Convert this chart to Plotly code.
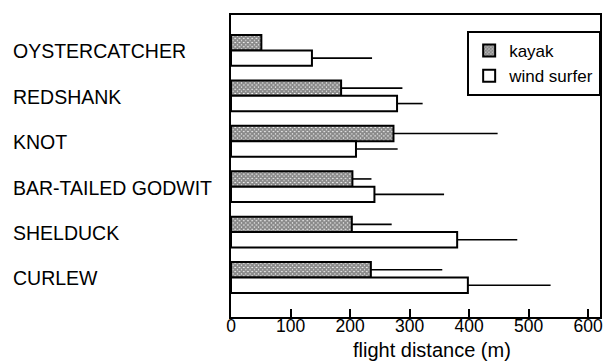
import plotly.graph_objects as go

species = ["OYSTERCATCHER", "REDSHANK", "KNOT", "BAR-TAILED GODWIT", "SHELDUCK", "CURLEW"]
kayak = [51, 185, 273, 204, 203, 235]
kayak_err = [0, 103, 175, 32, 67, 120]
windsurfer = [136, 279, 210, 241, 380, 398]
windsurfer_err = [101, 43, 70, 117, 101, 139]
x_ticks = [0, 100, 200, 300, 400, 500, 600]
x_title = "flight distance (m)"

FONT = "Liberation Sans, Arial, Helvetica, sans-serif"

fig = go.Figure()
fig.add_trace(go.Bar(
    y=species, x=kayak, orientation="h", name="kayak",
    marker=dict(color="white", line=dict(color="black", width=2),
                pattern=dict(shape="x", size=3, solidity=0.85, fgcolor="#111", bgcolor="white")),
    error_x=dict(type="data", symmetric=False, array=kayak_err, arrayminus=[0]*6,
                 color="black", thickness=1.6, width=0),
))
fig.add_trace(go.Bar(
    y=species, x=windsurfer, orientation="h", name="wind surfer",
    marker=dict(color="white", line=dict(color="black", width=2)),
    error_x=dict(type="data", symmetric=False, array=windsurfer_err, arrayminus=[0]*6,
                 color="black", thickness=1.6, width=0),
))

for s in species:
    fig.add_annotation(x=0, xref="paper", xshift=-220, xanchor="left",
                       y=s, yref="y", yanchor="middle", yshift=-1, text=s, showarrow=False,
                       font=dict(family=FONT, size=19.5, color="black"))

fig.add_annotation(x=0.546, xref="paper", xanchor="center", y=0, yref="paper",
                   yanchor="bottom", yshift=-46, text=x_title, showarrow=False,
                   font=dict(family=FONT, size=20, color="black"))

fig.update_layout(
    width=606, height=363,
    margin=dict(l=231, r=6, t=15, b=46, autoexpand=False),
    paper_bgcolor="white", plot_bgcolor="white",
    barmode="group", bargap=0.32, bargroupgap=0,
    font=dict(family=FONT, color="black"),
    showlegend=True,
    legend=dict(x=0.64, y=0.947, xanchor="left", yanchor="top",
                bgcolor="white", bordercolor="black", borderwidth=2,
                font=dict(family=FONT, size=17, color="black"),
                tracegroupgap=0, itemwidth=30),
    xaxis=dict(range=[0, 620], tickvals=x_ticks, ticks="inside", ticklen=8, tickwidth=2,
               tickcolor="black", showgrid=False, zeroline=False, automargin=False,
               showline=True, linecolor="black", linewidth=2, mirror=True,
               ticklabelstandoff=-8,
               tickfont=dict(family=FONT, size=17.5, color="black")),
    yaxis=dict(range=[5.87, -0.78], showticklabels=False, ticks="", showgrid=False, automargin=False,
               zeroline=False, showline=True, linecolor="black", linewidth=2, mirror=True),
)

fig.write_html("out.html")
